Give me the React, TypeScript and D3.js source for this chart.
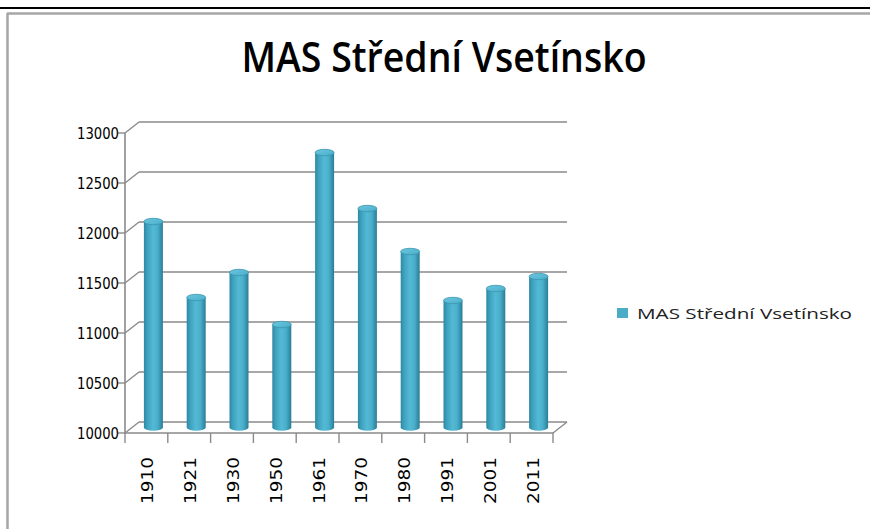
import React from "react";
import * as d3 from "d3";

const years = ["1910", "1921", "1930", "1950", "1961", "1970", "1980", "1991", "2001", "2011"];
const population = [12060, 11300, 11550, 11030, 12750, 12190, 11760, 11270, 11390, 11510];
const yTicks = [10000, 10500, 11000, 11500, 12000, 12500, 13000];
const title = "MAS Střední Vsetínsko";
const seriesName = "MAS Střední Vsetínsko";

export default function App() {
  const W = 870, H = 529;
  const x0 = 125, x1 = 553;
  const y = d3.scaleLinear().domain([10000, 13000]).range([433, 133]);
  const x = d3.scaleBand<string>().domain(years).range([x0, x1]).paddingInner(0).paddingOuter(0);
  const dx = 14, dy = -11; // depth offset
  const barW = 19;
  const ry = 3.2;
  const axisCol = "#8a8a8a";

  return (
    <svg width={W} height={H} style={{ position: "absolute", left: 0, top: 0, background: "#fff" }}>
      <defs>
        <linearGradient id="cyl" x1="0" x2="1" y1="0" y2="0">
          <stop offset="0%" stopColor="#2d87a1" />
          <stop offset="18%" stopColor="#3ea2be" />
          <stop offset="48%" stopColor="#53b9d4" />
          <stop offset="72%" stopColor="#4aafcb" />
          <stop offset="100%" stopColor="#2a7d96" />
        </linearGradient>
        <linearGradient id="cyltop" x1="0" x2="1" y1="0" y2="1">
          <stop offset="0%" stopColor="#6cc6dd" />
          <stop offset="100%" stopColor="#4aaecb" />
        </linearGradient>
      </defs>
      {/* outer frame */}
      <line x1={0} x2={W} y1={8} y2={8} stroke="#000" strokeWidth={2} />
      <line x1={7} x2={W} y1={13.5} y2={13.5} stroke="#a6a6a6" strokeWidth={2.5} />
      <line x1={7.5} x2={7.5} y1={13} y2={H} stroke="#a6a6a6" strokeWidth={2.5} />

      {/* title */}
      <text x={444} y={72} textAnchor="middle" fontFamily="'Open Sans', sans-serif" fontWeight={600}
        fontSize={41} textLength={405} lengthAdjust="spacingAndGlyphs" fill="#000">{title}</text>

      {/* back wall gridlines */}
      {yTicks.map((t) => (
        <g key={t}>
          <line x1={x0 + dx} x2={x1 + dx} y1={y(t) + dy} y2={y(t) + dy} stroke={axisCol} strokeWidth={1.6} />
          <line x1={x0} x2={x0 + dx} y1={y(t)} y2={y(t) + dy} stroke={axisCol} strokeWidth={1.4} />
          <line x1={x0 - 7} x2={x0} y1={y(t)} y2={y(t)} stroke={axisCol} strokeWidth={1.4} />
          <text x={119} y={y(t) + 6} textAnchor="end" fontFamily="'DejaVu Sans', sans-serif" fontSize={16.5}
            textLength={42} lengthAdjust="spacingAndGlyphs" fill="#000">{t}</text>
        </g>
      ))}
      {/* vertical axis */}
      <line x1={x0} x2={x0} y1={y(13000)} y2={y(10000)} stroke={axisCol} strokeWidth={1.6} />
      {/* floor */}
      <line x1={x0} x2={x1} y1={y(10000)} y2={y(10000)} stroke={axisCol} strokeWidth={1.6} />
      <line x1={x1} x2={x1 + dx} y1={y(10000)} y2={y(10000) + dy} stroke={axisCol} strokeWidth={1.4} />
      {/* x ticks */}
      {[...years.map((d) => x(d) as number), x1].map((v, i) => (
        <line key={i} x1={v} x2={v} y1={y(10000)} y2={y(10000) + 10} stroke={axisCol} strokeWidth={1.4} />
      ))}
      {/* bars */}
      {years.map((d, i) => {
        const cx = (x(d) as number) + x.bandwidth() / 2 + dx / 2;
        const top = y(population[i]) + dy / 2;
        const bot = y(10000) + dy / 2;
        const l = cx - barW / 2, r = cx + barW / 2;
        const rx = barW / 2;
        const path = `M${l},${top} L${l},${bot} A${rx},${ry} 0 0 0 ${r},${bot} L${r},${top} Z`;
        return (
          <g key={d}>
            <path d={path} fill="url(#cyl)" />
            <ellipse cx={cx} cy={top} rx={rx} ry={ry} fill="url(#cyltop)" stroke="#3a96b0" strokeWidth={0.8} />
          </g>
        );
      })}
      {/* x labels */}
      {years.map((d) => {
        const cx = (x(d) as number) + x.bandwidth() / 2 + 1;
        return (
          <text key={d} transform={`translate(${cx + 6},457) rotate(-90)`} textAnchor="end"
            fontFamily="'DejaVu Sans', sans-serif" fontSize={16} textLength={47} lengthAdjust="spacingAndGlyphs"
            fill="#000">{d}</text>
        );
      })}
      {/* legend */}
      <rect x={617} y={308} width={11} height={10} fill="#4bacc6" />
      <text x={637} y={318.5} fontFamily="'Open Sans', sans-serif" fontSize={15} textLength={215}
        lengthAdjust="spacingAndGlyphs" fill="#222">{seriesName}</text>
    </svg>
  );
}
